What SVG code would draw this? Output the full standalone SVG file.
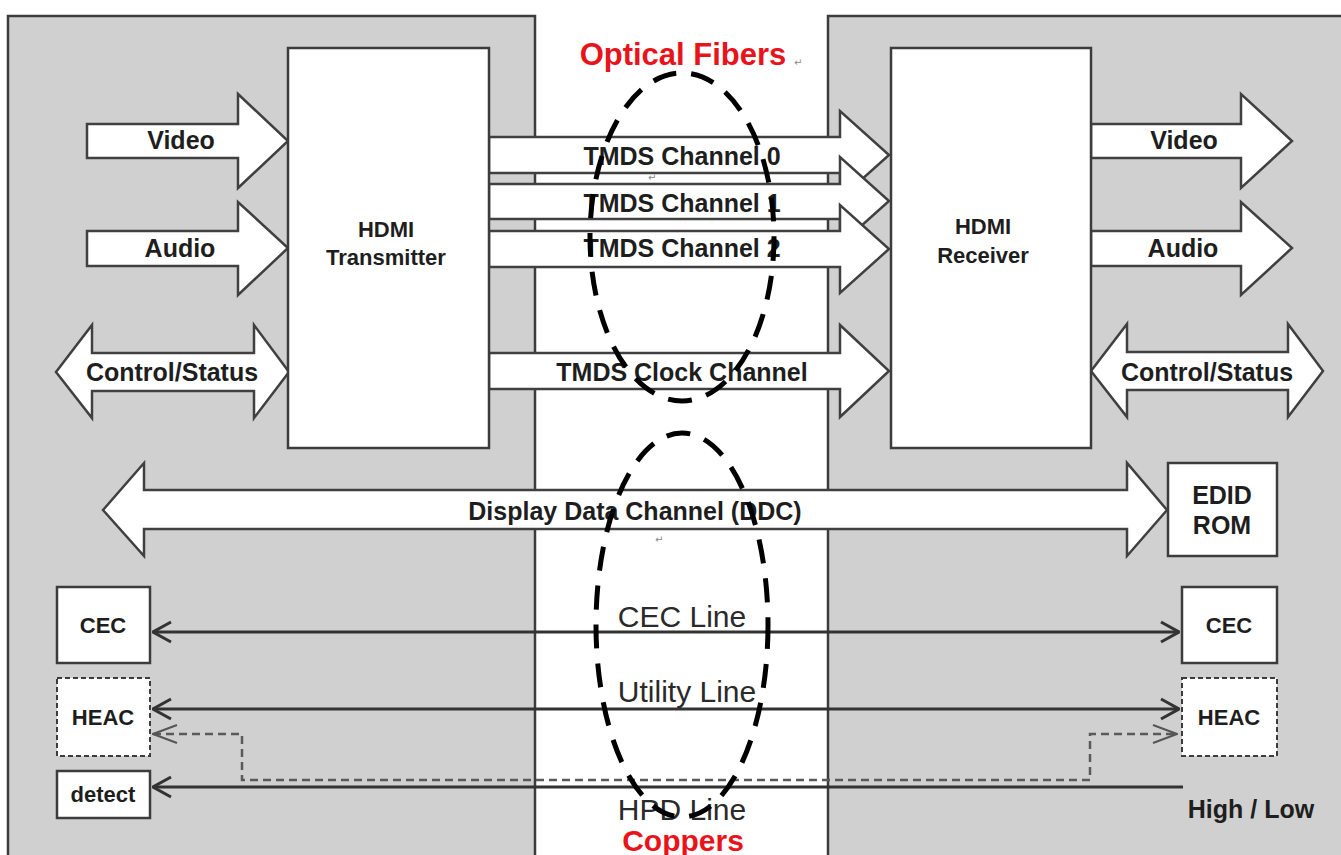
<svg xmlns="http://www.w3.org/2000/svg" width="1341" height="855" viewBox="0 0 1341 855">
<style>
.panel{fill:#d0d0d0;stroke:#3c3c3c;stroke-width:2.5}
.box{fill:#fff;stroke:#3c3c3c;stroke-width:2.5}
.dbox{fill:#fff;stroke:#3c3c3c;stroke-width:2;stroke-dasharray:5 3}
.blk{fill:#fff;stroke:#404040;stroke-width:2.5;stroke-linejoin:miter}
.lbl{font-family:"Liberation Sans",Arial,sans-serif;font-weight:bold;fill:#1e1e1e;text-anchor:middle}
.thin{font-family:"Liberation Sans",Arial,sans-serif;font-size:30px;fill:#2a2a2a;text-anchor:middle}
.red{font-family:"Liberation Sans",Arial,sans-serif;font-weight:bold;fill:#e8131b;text-anchor:middle}
.pm{font-family:"DejaVu Sans",sans-serif;font-size:10px;fill:#888}
.wire{fill:none;stroke:#333;stroke-width:3}
.dwire{fill:none;stroke:#5a5a5a;stroke-width:2.5;stroke-dasharray:8 5}
.oval{fill:none;stroke:#000;stroke-width:5;stroke-dasharray:24 15}
</style>
<defs>
<marker id="chev" viewBox="0 0 20 24" refX="19" refY="12" markerWidth="20" markerHeight="24" markerUnits="userSpaceOnUse" orient="auto-start-reverse">
<path d="M1,2 L19,12 L1,22" fill="none" stroke="#333" stroke-width="3"/>
</marker>
<marker id="dchev" viewBox="0 0 26 20" refX="25" refY="10" markerWidth="26" markerHeight="20" markerUnits="userSpaceOnUse" orient="auto-start-reverse">
<path d="M1,1 L25,10 L1,19" fill="none" stroke="#555" stroke-width="2"/>
</marker>
</defs>
<rect width="1341" height="855" fill="#fff"/>
<g id="panel-source"><rect class="panel" x="8" y="16" width="527" height="860"/></g>
<g id="panel-sink"><rect class="panel" x="828" y="16" width="540" height="860"/></g>

<g id="connectors">
<g id="tmds0"><path class="blk" d="M489,137 H840 V111 L889,155 L840,199 V173 H489 Z"/><text class="lbl" x="682" y="165" font-size="25">TMDS Channel 0</text></g>
<g id="tmds1"><path class="blk" d="M489,184 H840 V157 L889,201 L840,245 V219 H489 Z"/><text class="lbl" x="682" y="212" font-size="25">TMDS Channel 1</text></g>
<g id="tmds2"><path class="blk" d="M489,231 H840 V205 L889,249 L840,293 V267 H489 Z"/><text class="lbl" x="682" y="257" font-size="25">TMDS Channel 2</text></g>
<g id="tmdsclk"><path class="blk" d="M489,353 H840 V325 L889,371 L840,417 V389 H489 Z"/><text class="lbl" x="682" y="381" font-size="25">TMDS Clock Channel</text></g>
<g id="tx-video"><path class="blk" d="M87,124 H238 V94 L288,141 L238,188 V158 H87 Z"/><text class="lbl" x="181" y="149" font-size="25">Video</text></g>
<g id="tx-audio"><path class="blk" d="M87,231 H238 V202 L288,248 L238,295 V266 H87 Z"/><text class="lbl" x="180" y="257" font-size="25">Audio</text></g>
<g id="tx-ctrl"><path class="blk" d="M56,372 L92,325 V353 H254 V325 L289,372 L254,418 V391 H92 V418 Z"/><text class="lbl" x="172" y="381" font-size="25">Control/Status</text></g>
<g id="rx-video"><path class="blk" d="M1091,124 H1241 V94 L1292,141 L1241,188 V158 H1091 Z"/><text class="lbl" x="1184" y="149" font-size="25">Video</text></g>
<g id="rx-audio"><path class="blk" d="M1091,231 H1241 V202 L1292,248 L1241,295 V266 H1091 Z"/><text class="lbl" x="1183" y="257" font-size="25">Audio</text></g>
<g id="rx-ctrl"><path class="blk" d="M1091,371 L1127,324 V352 H1288 V324 L1323,371 L1288,417 V390 H1127 V417 Z"/><text class="lbl" x="1207" y="381" font-size="25">Control/Status</text></g>
<g id="ddc"><path class="blk" d="M103,510 L144,463 V490 H1127 V463 L1167,510 L1127,556 V529 H144 V556 Z"/><text class="lbl" x="635" y="520" font-size="25">Display Data Channel (DDC)</text></g>
<path id="cec-line" class="wire" d="M153,632 H1179" marker-start="url(#chev)" marker-end="url(#chev)"/>
<path id="utility-line" class="wire" d="M153,709 H1179" marker-start="url(#chev)" marker-end="url(#chev)"/>
<path id="heac-dashed" class="dwire" d="M153,734 H242 V780 H1090 V734 H1177" marker-start="url(#dchev)" marker-end="url(#dchev)"/>
<path id="hpd-line" class="wire" d="M153,787 H1183" marker-start="url(#chev)"/>
</g>

<g id="hdmi-transmitter"><rect class="box" x="288" y="48" width="201" height="400"/><text class="lbl" x="386" y="237" font-size="22">HDMI</text><text class="lbl" x="386" y="265" font-size="22">Transmitter</text></g>
<g id="hdmi-receiver"><rect class="box" x="891" y="48" width="200" height="400"/><text class="lbl" x="983" y="234" font-size="22">HDMI</text><text class="lbl" x="983" y="263" font-size="22">Receiver</text></g>
<g id="edid-rom"><rect class="box" x="1168" y="463" width="109" height="93"/><text class="lbl" x="1222" y="504" font-size="25">EDID</text><text class="lbl" x="1222" y="534" font-size="25">ROM</text></g>
<g id="cec-left"><rect class="box" x="57" y="587" width="93" height="76"/><text class="lbl" x="103" y="633" font-size="22">CEC</text></g>
<g id="heac-left"><rect class="dbox" x="57" y="678" width="93" height="78"/><text class="lbl" x="103" y="725" font-size="22">HEAC</text></g>
<g id="detect"><rect class="box" x="57" y="771" width="93" height="47"/><text class="lbl" x="103" y="802" font-size="22">detect</text></g>
<g id="cec-right"><rect class="box" x="1182" y="587" width="95" height="76"/><text class="lbl" x="1229" y="633" font-size="22">CEC</text></g>
<g id="heac-right"><rect class="dbox" x="1182" y="678" width="95" height="78"/><text class="lbl" x="1229" y="725" font-size="22">HEAC</text></g>
<g id="high-low"><text class="lbl" x="1251" y="818" font-size="25">High / Low</text></g>

<g id="line-labels">
<text class="thin" x="682" y="627">CEC Line</text>
<text class="thin" x="687" y="702">Utility Line</text>
<text class="thin" x="682" y="820">HPD Line</text>
</g>

<g id="annotations">
<ellipse class="oval" cx="682" cy="237" rx="92" ry="164"/>
<ellipse class="oval" cx="682" cy="625" rx="86" ry="192"/>
<text class="red" x="683" y="65" font-size="31">Optical Fibers</text>
<text class="red" x="683" y="851" font-size="30">Coppers</text>
<text class="pm" x="794" y="66">↵</text>
<text class="pm" x="648" y="181">↵</text>
<text class="pm" x="655" y="543">↵</text>
</g>
</svg>
